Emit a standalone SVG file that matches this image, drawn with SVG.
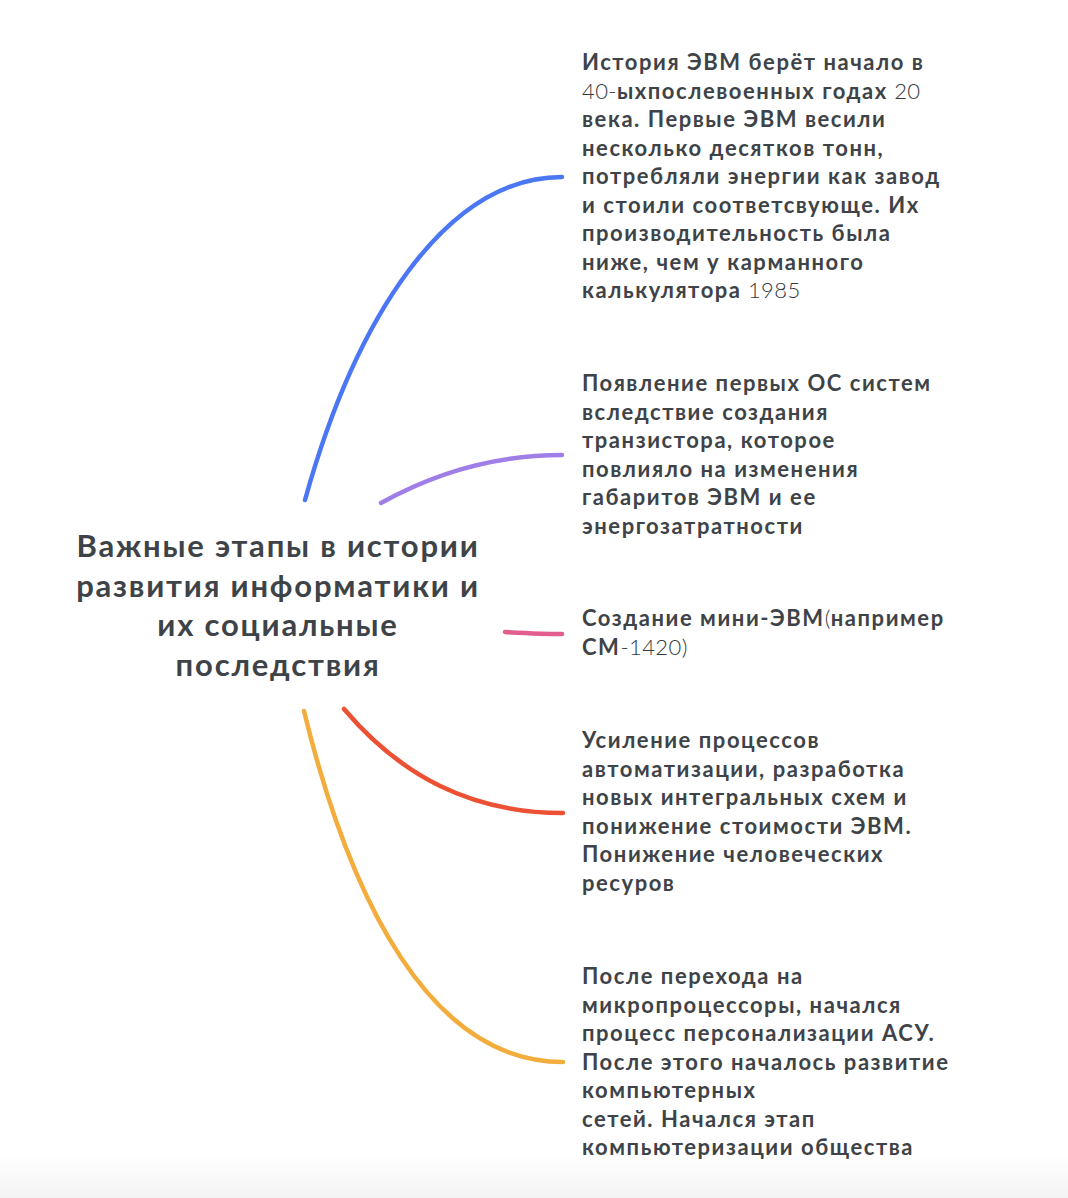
<svg xmlns="http://www.w3.org/2000/svg" width="1068" height="1198" viewBox="0 0 1068 1198">
<style>
.t{font-family:Lato,"Noto Sans",sans-serif;font-weight:700;font-size:22px;fill:#3e4348;letter-spacing:1.55px}
.n{font-weight:300;letter-spacing:0.4px;fill:#33383c}
.h{font-family:Lato,"Noto Sans",sans-serif;font-weight:700;font-size:31px;fill:#3e4348;letter-spacing:1.8px;text-anchor:middle}
.c{fill:none;stroke-width:4.5;stroke-linecap:round}
</style>
<defs>
<linearGradient id="bg" x1="0" y1="0" x2="0" y2="1">
<stop offset="0" stop-color="#ffffff"/>
<stop offset="1" stop-color="#f3f3f3"/>
</linearGradient>
</defs>
<rect width="1068" height="1198" fill="#ffffff"/>
<rect y="1155" width="1068" height="43" fill="url(#bg)"/>
<g id="connectors">
<path class="c" stroke="#4b77f4" d="M305,500 C355,320 445,177 562,177"/>
<path class="c" stroke="#a07ee8" d="M381,503 C440,470 500,455 562,455"/>
<path class="c" stroke="#e35d8f" d="M505,632 C525,633 545,634 562,634"/>
<path class="c" stroke="#eb5132" d="M344,709 C400,775 470,813 563,813"/>
<path class="c" stroke="#f2ad3d" d="M304,711 C350,900 430,1062 563,1062"/>
</g>
<g id="root">
<text class="h" x="278" y="557">Важные этапы в истории</text>
<text class="h" x="278" y="596.5">развития информатики и</text>
<text class="h" x="278" y="636">их социальные</text>
<text class="h" x="278" y="675.5">последствия</text>
</g>
<g id="node1">
<text class="t" x="582" y="70">История ЭВМ берёт начало в</text>
<text class="t" x="582" y="98.5"><tspan class="n">40-</tspan>ыхпослевоенных годах<tspan class="n"> 20</tspan></text>
<text class="t" x="582" y="127">века. Первые ЭВМ весили</text>
<text class="t" x="582" y="155.5">несколько десятков тонн,</text>
<text class="t" x="582" y="184">потребляли энергии как завод</text>
<text class="t" x="582" y="212.5">и стоили соответсвующе. Их</text>
<text class="t" x="582" y="241">производительность была</text>
<text class="t" x="582" y="269.5">ниже, чем у карманного</text>
<text class="t" x="582" y="298">калькулятора<tspan class="n"> 1985</tspan></text>
</g>
<g id="node2">
<text class="t" x="582" y="391">Появление первых ОС систем</text>
<text class="t" x="582" y="419.5">вследствие создания</text>
<text class="t" x="582" y="448">транзистора, которое</text>
<text class="t" x="582" y="476.5">повлияло на изменения</text>
<text class="t" x="582" y="505">габаритов ЭВМ и ее</text>
<text class="t" x="582" y="533.5">энергозатратности</text>
</g>
<g id="node3">
<text class="t" x="582" y="626">Создание мини-ЭВМ<tspan class="n">(</tspan>например</text>
<text class="t" x="582" y="654.5">СМ<tspan class="n">-1420)</tspan></text>
</g>
<g id="node4">
<text class="t" x="582" y="748">Усиление процессов</text>
<text class="t" x="582" y="776.5">автоматизации, разработка</text>
<text class="t" x="582" y="805">новых интегральных схем и</text>
<text class="t" x="582" y="833.5">понижение стоимости ЭВМ.</text>
<text class="t" x="582" y="862">Понижение человеческих</text>
<text class="t" x="582" y="890.5">ресуров</text>
</g>
<g id="node5">
<text class="t" x="582" y="984">После перехода на</text>
<text class="t" x="582" y="1012.5">микропроцессоры, начался</text>
<text class="t" x="582" y="1041">процесс персонализации АСУ.</text>
<text class="t" x="582" y="1069.5">После этого началось развитие</text>
<text class="t" x="582" y="1098">компьютерных</text>
<text class="t" x="582" y="1126.5">сетей. Начался этап</text>
<text class="t" x="582" y="1155">компьютеризации общества</text>
</g>
</svg>
